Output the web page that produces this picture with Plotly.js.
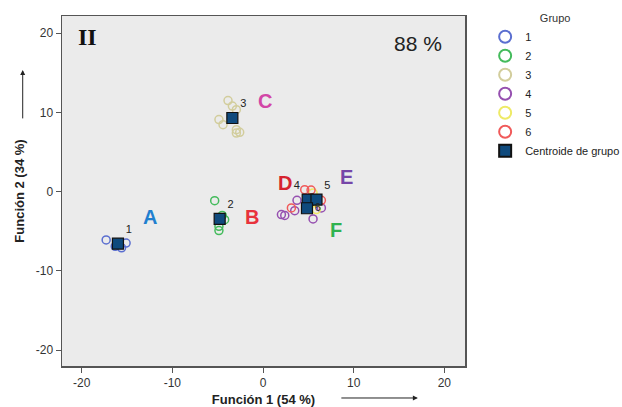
<!DOCTYPE html>
<html>
<head>
<meta charset="utf-8">
<script src="https://cdn.plot.ly/plotly-3.0.1.min.js"></script>
<style>html,body{margin:0;padding:0;background:#fff;}#chart{width:622px;height:407px;}</style>
</head>
<body>
<div id="chart"></div>
<script>
// ---- data ----
const groupNames = ["1", "2", "3", "4", "5", "6"];
const groupColors = ["#5b6fd0", "#44bb5c", "#d2cd9c", "#9650b0", "#eeea66", "#f05a5a"];

const g1x = [-17.3, -15.1, -15.6, -16.0, -16.3];
const g1y = [-6.1, -6.5, -7.1, -6.6, -6.9];
const g2x = [-5.33, -4.23, -4.86, -4.86, -4.5];
const g2y = [-1.14, -3.54, -4.38, -4.92, -3.0];
const g3x = [-3.86, -3.38, -2.94, -4.86, -4.41, -2.94, -2.57, -2.94];
const g3y = [11.5, 10.8, 10.35, 9.1, 8.46, 7.83, 7.49, 7.4];
const g4x = [2.03, 2.4, 5.52, 6.44, 3.75, 3.5];
const g4y = [-2.9, -3.0, -3.45, -2.06, -1.1, -2.4];
const g5x = [5.52, 5.89, 5.6];
const g5y = [-0.17, -2.27, -1.4];
const g6x = [3.13, 4.6, 6.44, 5.3];
const g6y = [-2.06, 0.25, -1.1, 0.2];

const centroidLabels = ["1", "2", "3", "4", "5", "6"];
const centroidX = [-16.0, -4.78, -3.38, 4.93, 5.9, 4.85];
const centroidY = [-6.57, -3.45, 9.3, -1.0, -1.0, -2.1];

const letterLabels = ["A", "B", "C", "D", "E", "F"];
const letterColors = ["#1f7fcf", "#e8323c", "#d246a6", "#d6232f", "#7646a8", "#2fb24f"];
const letterX = [-12.5, -1.25, 0.2, 2.4, 9.2, 8.1];
const letterY = [-3.2, -3.2, 11.4, 1.1, 1.9, -4.8];

const xTitle = "Función 1 (54 %)";
const yTitle = "Función 2 (34 %)";
const panelLabel = "II";
const percentLabel = "88 %";
const legendTitle = "Grupo";
const centroidName = "Centroide de grupo";

// ---- traces ----
const gx = [g1x, g2x, g3x, g4x, g5x, g6x];
const gy = [g1y, g2y, g3y, g4y, g5y, g6y];
const traces = groupNames.map((n, i) => ({
  type: "scatter", mode: "markers", name: n,
  x: gx[i], y: gy[i],
  marker: {symbol: "circle-open", size: 8, color: groupColors[i], line: {width: 1.5, color: groupColors[i]}},
  hoverinfo: "x+y+name"
}));
traces.push({
  type: "scatter", mode: "markers+text", name: centroidName,
  x: centroidX, y: centroidY, text: centroidLabels,
  textposition: ["top right", "top right", "top right", "top left", "top right", "middle right"],
  textfont: {family: "Liberation Sans, Arial, sans-serif", size: 11, color: "#222"},
  marker: {symbol: "square", size: 11, color: "#0f4a7d", line: {width: 1.2, color: "#111"}}
});

const annotations = letterLabels.map((t, i) => ({
  x: letterX[i], y: letterY[i], xref: "x", yref: "y", text: "<b>" + t + "</b>",
  xanchor: "center", yanchor: "middle",
  showarrow: false, font: {family: "Liberation Sans, Arial, sans-serif", size: 20, color: letterColors[i]}
}));
annotations.push(
  {xref: "paper", yref: "paper", x: 0.0645, y: 0.941, xanchor: "center", yanchor: "middle",
   text: "<b>" + panelLabel + "</b>", showarrow: false,
   font: {family: "Liberation Serif, Times New Roman, serif", size: 24, color: "#111"}},
  {xref: "paper", yref: "paper", x: 0.883, y: 0.921, xanchor: "center", yanchor: "middle",
   text: percentLabel, showarrow: false,
   font: {family: "Liberation Sans, Arial, sans-serif", size: 21, color: "#222"}},
  // axis arrows
  {xref: "paper", yref: "paper", x: 0.883, y: -0.0914, text: "", showarrow: true,
   ax: -78, ay: 0, arrowhead: 2, arrowsize: 1, arrowwidth: 1, arrowcolor: "#222"},
  {xref: "paper", yref: "paper", x: -0.0975, y: 0.846, text: "", showarrow: true,
   ax: 0, ay: 50, arrowhead: 2, arrowsize: 1, arrowwidth: 1, arrowcolor: "#222"}
);

const axisCommon = {
  showgrid: false, zeroline: false, showline: true, mirror: true,
  linecolor: "#555", linewidth: 1.5, ticks: "outside", ticklen: 5, tickcolor: "#555",
  tickfont: {family: "Liberation Sans, Arial, sans-serif", size: 12, color: "#333"},
  tickvals: [-20, -10, 0, 10, 20], ticktext: ["-20", "-10", "0", "10", "20"]
};

const layout = {
  width: 622, height: 407,
  margin: {l: 62, r: 157, t: 16, b: 41, autoexpand: false},
  paper_bgcolor: "#ffffff", plot_bgcolor: "#ebebeb",
  showlegend: true,
  legend: {
    x: 1.05, y: 1.023, xanchor: "left", yanchor: "top",
    font: {family: "Liberation Sans, Arial, sans-serif", size: 11, color: "#222"},
    title: {text: legendTitle, side: "top center", font: {family: "Liberation Sans, Arial, sans-serif", size: 11, color: "#333"}},
    itemsizing: "constant", tracegroupgap: 0, bgcolor: "rgba(0,0,0,0)"
  },
  xaxis: Object.assign({}, axisCommon, {
    range: [-22.17, 22.28],
    title: {text: "<b>" + xTitle + "</b>", font: {family: "Liberation Sans, Arial, sans-serif", size: 13, color: "#222"}, standoff: 6}
  }),
  yaxis: Object.assign({}, axisCommon, {
    range: [-22.02, 22.18],
    title: {text: "<b>" + yTitle + "</b>", font: {family: "Liberation Sans, Arial, sans-serif", size: 13, color: "#222"}, standoff: 8}
  }),
  annotations: annotations
};

Plotly.newPlot("chart", traces, layout, {displayModeBar: false, staticPlot: true});
</script>
</body>
</html>
